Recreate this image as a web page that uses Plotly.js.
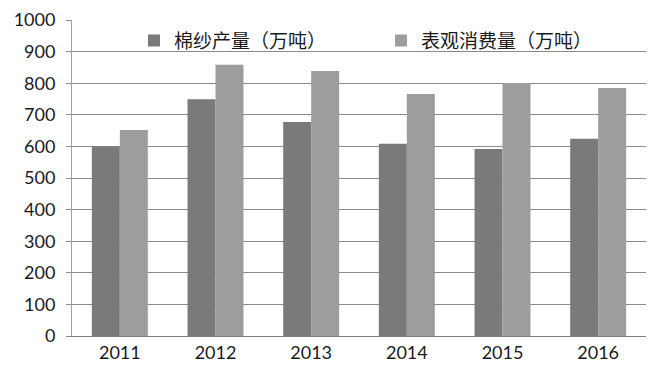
<!DOCTYPE html>
<html>
<head>
<meta charset="utf-8">
<script src="https://cdn.plot.ly/plotly-3.0.1.min.js"></script>
<style>html,body{margin:0;padding:0;background:#fff;}#chart{width:655px;height:372px;}</style>
</head>
<body>
<div id="chart"></div>
<script>
const years = ['2011', '2012', '2013', '2014', '2015', '2016'];
const yarnOutput = [600, 749, 677, 608, 592, 624];
const apparentConsumption = [652, 858, 839, 766, 801, 785];
const seriesNames = ['棉纱产量（万吨）', '表观消费量（万吨）'];
const yTicks = [0, 100, 200, 300, 400, 500, 600, 700, 800, 900, 1000];

const traces = [
  {type: 'bar', name: seriesNames[0], x: years, y: yarnOutput,
   marker: {color: '#7a7a7a', line: {width: 0}}, hoverinfo: 'x+y'},
  {type: 'bar', name: seriesNames[1], x: years, y: apparentConsumption,
   marker: {color: '#9d9d9d', line: {width: 0}}, hoverinfo: 'x+y'}
];

const layout = {
  width: 655, height: 372,
  margin: {l: 72, r: 9, t: 20, b: 36, pad: 0, autoexpand: false},
  paper_bgcolor: '#ffffff', plot_bgcolor: '#ffffff',
  barmode: 'group', bargap: 0.415, bargroupgap: 0,
  font: {family: 'Lato, "Noto Sans CJK SC", sans-serif', size: 18, color: '#1a1a1a'},
  showlegend: true,
  legend: {
    orientation: 'h', x: 0.108, xanchor: 'left', y: 0.995, yanchor: 'top',
    bgcolor: 'rgba(0,0,0,0)', borderwidth: 0,
    font: {family: '"Noto Sans CJK SC", sans-serif', size: 19, color: '#1a1a1a'},
    entrywidth: 202, entrywidthmode: 'pixels', itemclick: false
  },
  xaxis: {
    type: 'category', showgrid: false, zeroline: false,
    showline: true, linecolor: '#7f7f7f', linewidth: 1,
    ticks: '', tickfont: {size: 18}, ticklabelstandoff: 0
  },
  yaxis: {
    range: [0, 1000], tickvals: yTicks, ticktext: yTicks.map(String),
    showgrid: true, gridcolor: '#8a8a8a', gridwidth: 1,
    zeroline: false, showline: true, linecolor: '#a0a0a0', linewidth: 1,
    ticks: 'outside', ticklen: 5, tickcolor: '#8a8a8a',
    tickfont: {size: 18}, ticklabelstandoff: 7
  }
};

Plotly.newPlot('chart', traces, layout, {displayModeBar: false, staticPlot: true});
</script>
</body>
</html>
